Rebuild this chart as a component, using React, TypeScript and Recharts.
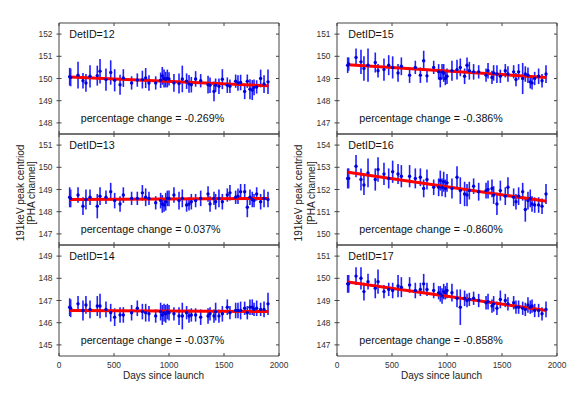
import React from "react";
import { ComposedChart, Scatter, Line, XAxis, YAxis, ErrorBar } from "recharts";

// Observation days (days since launch), shared by all detectors
const days = [97, 106, 173, 218, 245, 282, 348, 373, 427, 470, 506, 555, 585, 660, 712, 758, 788, 818, 879, 924, 939, 955, 970, 985, 1000, 1045, 1091, 1121, 1160, 1182, 1203, 1242, 1288, 1355, 1373, 1409, 1424, 1454, 1485, 1530, 1554, 1606, 1627, 1651, 1688, 1712, 1736, 1757, 1773, 1797, 1833, 1864, 1900];

// Peak centroid values [PHA channel]
const det12 = [150.08, 150.05, 150.15, 149.9, 149.8, 150.1, 150.13, 150.33, 149.95, 150.27, 149.92, 149.72, 150.02, 149.8, 149.93, 149.95, 150.02, 149.8, 149.8, 149.92, 150.12, 150.0, 149.95, 150.0, 149.98, 149.8, 149.77, 149.98, 149.88, 149.76, 149.72, 149.98, 149.9, 149.72, 149.7, 149.42, 149.7, 149.65, 149.97, 149.7, 149.65, 149.88, 149.8, 149.82, 149.42, 149.88, 149.52, 149.48, 149.6, 149.62, 150.0, 149.75, 149.85];
const det13 = [148.65, 148.6, 148.75, 148.25, 148.55, 148.65, 148.25, 148.7, 148.65, 148.9, 148.5, 148.35, 148.75, 148.6, 148.6, 148.85, 148.65, 148.6, 148.4, 148.5, 148.35, 148.3, 148.45, 148.6, 148.6, 148.75, 148.5, 148.6, 148.3, 148.35, 148.45, 148.5, 148.6, 148.8, 148.35, 148.6, 148.45, 148.6, 148.45, 148.75, 148.85, 148.65, 148.7, 148.9, 148.9, 148.2, 148.65, 148.55, 148.5, 148.8, 148.45, 148.6, 148.55];
const det14 = [146.7, 146.65, 146.85, 146.55, 146.8, 146.6, 146.75, 146.75, 146.6, 146.45, 146.25, 146.35, 146.35, 146.45, 146.65, 146.5, 146.45, 146.4, 146.3, 146.5, 146.35, 146.45, 146.4, 146.5, 146.45, 146.4, 146.3, 146.3, 146.45, 146.3, 146.35, 146.35, 146.25, 146.3, 146.4, 146.3, 146.5, 146.3, 146.4, 146.7, 146.45, 146.55, 146.55, 146.55, 146.65, 146.45, 146.7, 146.7, 146.6, 146.65, 146.6, 146.6, 146.85];
const det15 = [149.6, 149.65, 149.95, 149.75, 149.45, 149.6, 149.72, 149.35, 149.4, 149.6, 149.5, 149.25, 149.55, 149.15, 149.5, 149.15, 149.8, 149.12, 149.5, 149.3, 149.0, 149.3, 149.25, 149.0, 149.1, 149.35, 149.4, 149.5, 149.1, 149.6, 149.35, 149.3, 149.3, 149.15, 149.35, 149.05, 149.25, 149.2, 149.1, 149.35, 149.2, 149.3, 148.95, 149.3, 149.0, 149.2, 149.15, 148.85, 148.8, 149.0, 149.1, 148.9, 149.2];
const det16 = [152.5, 152.5, 153.05, 152.45, 152.2, 152.75, 152.45, 152.9, 152.7, 152.5, 152.8, 152.7, 152.6, 152.6, 152.5, 152.55, 152.05, 152.45, 152.1, 152.1, 152.4, 152.1, 152.35, 152.05, 152.3, 152.05, 152.55, 151.95, 151.8, 151.75, 151.95, 152.15, 151.9, 151.95, 152.0, 152.05, 151.75, 151.35, 151.95, 151.7, 152.1, 151.65, 151.45, 151.7, 151.9, 151.1, 151.5, 151.6, 151.35, 151.3, 151.3, 151.25, 151.8];
const det17 = [149.75, 149.75, 150.1, 150.0, 149.4, 149.85, 149.55, 149.85, 149.4, 149.5, 149.45, 149.65, 149.6, 149.7, 149.45, 149.5, 149.75, 149.5, 149.45, 149.35, 149.3, 149.2, 149.4, 149.35, 149.45, 149.35, 149.1, 148.7, 149.1, 149.0, 149.05, 149.1, 149.0, 148.9, 148.95, 148.75, 148.85, 148.65, 149.05, 149.0, 148.85, 148.9, 148.7, 148.7, 148.65, 148.6, 148.8, 148.7, 148.75, 148.55, 148.55, 148.4, 148.6];

// Error half-lengths
const err12 = [0.4, 0.4, 0.6, 0.35, 0.4, 0.5, 0.45, 0.55, 0.5, 0.55, 0.5, 0.45, 0.4, 0.3, 0.3, 0.4, 0.45, 0.35, 0.3, 0.35, 0.4, 0.4, 0.35, 0.4, 0.3, 0.4, 0.45, 0.6, 0.35, 0.4, 0.35, 0.35, 0.3, 0.4, 0.35, 0.45, 0.3, 0.35, 0.45, 0.35, 0.3, 0.3, 0.35, 0.35, 0.35, 0.3, 0.45, 0.45, 0.35, 0.3, 0.4, 0.4, 0.55];
const err13 = [0.45, 0.4, 0.35, 0.4, 0.45, 0.35, 0.55, 0.4, 0.3, 0.4, 0.35, 0.35, 0.35, 0.3, 0.3, 0.35, 0.4, 0.3, 0.3, 0.35, 0.4, 0.3, 0.4, 0.35, 0.35, 0.35, 0.4, 0.4, 0.3, 0.3, 0.35, 0.3, 0.35, 0.35, 0.35, 0.3, 0.35, 0.4, 0.35, 0.3, 0.35, 0.3, 0.35, 0.35, 0.35, 0.45, 0.35, 0.35, 0.3, 0.3, 0.35, 0.4, 0.35];
const err14 = [0.4, 0.4, 0.35, 0.45, 0.4, 0.4, 0.45, 0.55, 0.35, 0.4, 0.4, 0.35, 0.35, 0.35, 0.35, 0.35, 0.4, 0.35, 0.3, 0.4, 0.45, 0.4, 0.4, 0.35, 0.35, 0.3, 0.4, 0.6, 0.3, 0.3, 0.3, 0.3, 0.35, 0.35, 0.3, 0.3, 0.4, 0.3, 0.35, 0.35, 0.3, 0.35, 0.35, 0.4, 0.3, 0.3, 0.35, 0.35, 0.3, 0.35, 0.3, 0.35, 0.5];
const err15 = [0.35, 0.3, 0.4, 0.55, 0.55, 0.75, 0.45, 0.3, 0.5, 0.45, 0.5, 0.4, 0.4, 0.35, 0.3, 0.35, 0.45, 0.3, 0.3, 0.35, 0.4, 0.35, 0.4, 0.3, 0.35, 0.45, 0.45, 0.4, 0.35, 0.35, 0.4, 0.35, 0.3, 0.3, 0.35, 0.3, 0.35, 0.4, 0.3, 0.3, 0.35, 0.3, 0.3, 0.35, 0.7, 0.35, 0.35, 0.3, 0.3, 0.3, 0.35, 0.3, 0.4];
const err16 = [0.45, 0.45, 0.5, 0.5, 0.45, 0.65, 0.5, 0.55, 0.5, 0.45, 0.5, 0.45, 0.5, 0.5, 0.45, 0.4, 0.4, 0.45, 0.35, 0.4, 0.45, 0.4, 0.45, 0.4, 0.4, 0.45, 0.5, 0.6, 0.55, 0.5, 0.4, 0.35, 0.4, 0.35, 0.4, 0.4, 0.4, 0.5, 0.45, 0.4, 0.45, 0.4, 0.35, 0.4, 0.4, 0.55, 0.4, 0.4, 0.35, 0.35, 0.35, 0.35, 0.45];
const err17 = [0.4, 0.4, 0.4, 0.5, 0.4, 0.35, 0.45, 0.55, 0.3, 0.3, 0.35, 0.5, 0.45, 0.35, 0.35, 0.3, 0.45, 0.3, 0.35, 0.3, 0.35, 0.35, 0.35, 0.3, 0.35, 0.4, 0.4, 0.8, 0.35, 0.3, 0.3, 0.3, 0.3, 0.3, 0.35, 0.3, 0.35, 0.3, 0.4, 0.3, 0.3, 0.3, 0.3, 0.3, 0.3, 0.3, 0.35, 0.3, 0.3, 0.3, 0.3, 0.3, 0.35];

// Linear fits: value at first and last day
const fitDays = [100, 1905];
const fitStart = [150.07, 148.55, 146.55, 149.62, 152.78, 149.83];
const fitEnd = [149.67, 148.60, 146.50, 149.05, 151.47, 148.55];

const detIds = [12, 13, 14, 15, 16, 17];
const pctChange = ["-0.269%", "0.037%", "-0.037%", "-0.386%", "-0.860%", "-0.858%"];
const yTicks = [
  [148, 149, 150, 151, 152],
  [147, 148, 149, 150, 151],
  [145, 146, 147, 148, 149],
  [147, 148, 149, 150, 151],
  [150, 151, 152, 153, 154],
  [147, 148, 149, 150, 151],
];
const xTicks = [0, 500, 1000, 1500, 2000];

const values = [det12, det13, det14, det15, det16, det17];
const errors = [err12, err13, err14, err15, err16, err17];

const AX = "#444";
const FONT = "'Liberation Sans', Arial, sans-serif";

const PLOT_W = 220;
const PLOT_H = 111;
const LEFT_W = 40;
const RIGHT_W = 10;
const TOP_H = 10;
const BOT_H = 25;
const colLeft = [59, 337];
const rowTop = [23, 134, 245];

const LeftTick = (props: any) => {
  const { x, y, payload } = props;
  return (
    <g>
      <line x1={x - 2.5} x2={x + 2.5} y1={y} y2={y} stroke={AX} strokeWidth={1} />
      <text x={x - 6.5} y={y + 3} textAnchor="end" fontSize={8.4} fontFamily={FONT} fill="#333">
        {payload.value}
      </text>
    </g>
  );
};
const RightTick = (props: any) => {
  const { x, y } = props;
  return <line x1={x - 3} x2={x} y1={y} y2={y} stroke={AX} strokeWidth={1} />;
};
const TopTick = (props: any) => {
  const { x, y } = props;
  return <line x1={x} x2={x} y1={y} y2={y + 3} stroke={AX} strokeWidth={1} />;
};
const makeBottomTick = (showLabel: boolean) => (props: any) => {
  const { x, y, payload } = props;
  return (
    <g>
      <line x1={x} x2={x} y1={y - 3} y2={y} stroke={AX} strokeWidth={1} />
      {showLabel ? (
        <text x={x} y={y + 12} textAnchor="middle" fontSize={8.4} fontFamily={FONT} fill="#333">
          {payload.value}
        </text>
      ) : null}
    </g>
  );
};

const Dot = (props: any) => {
  const { cx, cy } = props;
  if (cx == null || cy == null) return <g />;
  return <circle cx={cx} cy={cy} r={1.7} fill="#0000dd" />;
};

function Panel({ idx, col, row }: { idx: number; col: number; row: number }) {
  const pts = days.map((d, i) => ({ d, v: values[idx][i], e: errors[idx][i] }));
  const fit = [
    { d: fitDays[0], f: fitStart[idx] },
    { d: fitDays[1], f: fitEnd[idx] },
  ];
  const ticks = yTicks[idx];
  const domain: [number, number] = [ticks[0] - 0.5, ticks[ticks.length - 1] + 0.5];
  const left = colLeft[col] - LEFT_W;
  const top = rowTop[row] - TOP_H;
  return (
    <div style={{ position: "absolute", left, top }}>
      <ComposedChart
        width={PLOT_W + LEFT_W + RIGHT_W}
        height={PLOT_H + TOP_H + BOT_H}
        margin={{ top: 0, right: 0, bottom: 0, left: 0 }}
      >
        <XAxis
          xAxisId="b"
          dataKey="d"
          type="number"
          domain={[0, 2000]}
          ticks={xTicks}
          interval={0}
          orientation="bottom"
          height={BOT_H}
          tickSize={0}
          tickMargin={0}
          tickLine={false}
          axisLine={{ stroke: AX }}
          tick={makeBottomTick(row === 2)}
          allowDataOverflow
        />
        <XAxis
          xAxisId="t"
          dataKey="d"
          type="number"
          domain={[0, 2000]}
          ticks={xTicks}
          interval={0}
          orientation="top"
          height={TOP_H}
          tickSize={0}
          tickMargin={0}
          tickLine={false}
          axisLine={{ stroke: AX }}
          tick={TopTick}
          allowDataOverflow
        />
        <YAxis
          yAxisId="l"
          type="number"
          domain={domain}
          ticks={ticks}
          interval={0}
          orientation="left"
          width={LEFT_W}
          tickSize={0}
          tickMargin={0}
          tickLine={false}
          axisLine={{ stroke: AX }}
          tick={LeftTick}
          allowDataOverflow
        />
        <YAxis
          yAxisId="r"
          type="number"
          domain={domain}
          ticks={ticks}
          interval={0}
          orientation="right"
          width={RIGHT_W}
          tickSize={0}
          tickMargin={0}
          tickLine={false}
          axisLine={{ stroke: AX }}
          tick={RightTick}
          allowDataOverflow
        />
        <Scatter
          xAxisId="b"
          yAxisId="l"
          data={pts}
          dataKey="v"
          shape={Dot}
          isAnimationActive={false}
        >
          <ErrorBar dataKey="e" direction="y" width={0} stroke="#1f1fff" strokeWidth={1.6} isAnimationActive={false} />
        </Scatter>
        <Line
          xAxisId="b"
          yAxisId="l"
          data={fit}
          dataKey="f"
          stroke="#ff0000"
          strokeWidth={3}
          dot={false}
          activeDot={false}
          isAnimationActive={false}
        />
      </ComposedChart>
    </div>
  );
}

export default function App() {
  const layout = [
    { idx: 0, col: 0, row: 0 },
    { idx: 1, col: 0, row: 1 },
    { idx: 2, col: 0, row: 2 },
    { idx: 3, col: 1, row: 0 },
    { idx: 4, col: 1, row: 1 },
    { idx: 5, col: 1, row: 2 },
  ];
  return (
    <div style={{ position: "absolute", left: 0, top: 0, width: 581, height: 396, background: "#fff", overflow: "hidden" }}>
      {layout.map((p) => (
        <Panel key={p.idx} idx={p.idx} col={p.col} row={p.row} />
      ))}
      <svg width={581} height={396} style={{ position: "absolute", left: 0, top: 0, pointerEvents: "none" }}>
        {layout.map((p) => {
          const x0 = colLeft[p.col];
          const y0 = rowTop[p.row];
          return (
            <g key={p.idx}>
              <text x={x0 + (p.col === 0 ? 10.3 : 11.3)} y={y0 + 15.3} fontSize={10.7} fontFamily={FONT} fill="#111">
                {`DetID=${detIds[p.idx]}`}
              </text>
              <text x={x0 + (p.col === 0 ? 21.7 : 22.3)} y={y0 + 99.4} fontSize={10.7} fontFamily={FONT} fill="#111">
                {`percentage change = ${pctChange[p.idx]}`}
              </text>
            </g>
          );
        })}
        {[0, 1].map((c) => {
          const lx = c === 0 ? 23.5 : 302;
          const lx2 = c === 0 ? 35 : 314.5;
          const cy = 193;
          const cx = colLeft[c] + PLOT_W / 2 - 5.5;
          return (
            <g key={c}>
              <text x={lx} y={cy} transform={`rotate(-90 ${lx} ${cy})`} textAnchor="middle" fontSize={10} fontFamily={FONT} fill="#222">
                191keV peak centriod
              </text>
              <text x={lx2} y={cy} transform={`rotate(-90 ${lx2} ${cy})`} textAnchor="middle" fontSize={10} fontFamily={FONT} fill="#222">
                [PHA channel]
              </text>
              <text x={cx} y={379.3} textAnchor="middle" fontSize={10} fontFamily={FONT} fill="#222">
                Days since launch
              </text>
            </g>
          );
        })}
      </svg>
    </div>
  );
}
